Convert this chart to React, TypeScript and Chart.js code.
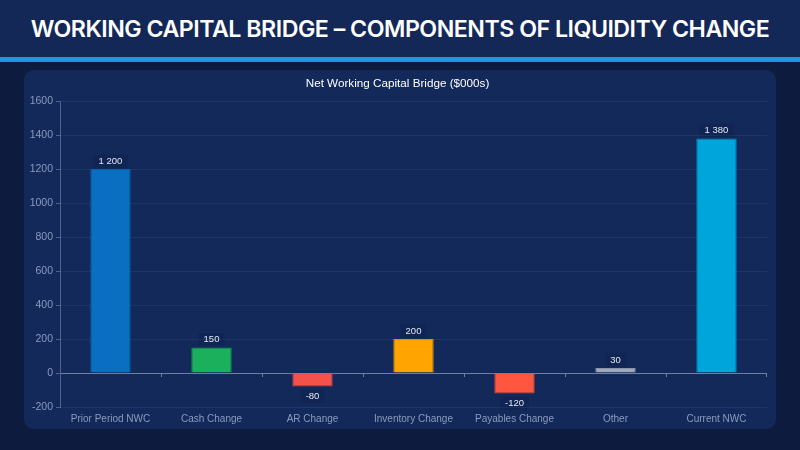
import { useEffect, useRef } from "react"
import { Chart, registerables } from "chart.js"

Chart.register(...registerables)

const categories = [
  "Prior Period NWC",
  "Cash Change",
  "AR Change",
  "Inventory Change",
  "Payables Change",
  "Other",
  "Current NWC",
]
const values = [1200, 150, -80, 200, -120, 30, 1380]
const barColors = ["#0a6fc0", "#1bb05c", "#f2524a", "#ffa400", "#ff5640", "#9ea9bd", "#00a5dc"]
const borderColors = ["#0a62aa", "#16984f", "#c9423c", "#e08f00", "#d8462f", "#8793a8", "#0090c0"]
const yTicks = [-200, 0, 200, 400, 600, 800, 1000, 1200, 1400, 1600]

const fmt = (v: number) => String(v).replace(/\B(?=(\d{3})+(?!\d))/g, " ")

// value labels above/below each bar, plus small ticks on the zero line
const barLabels = {
  id: "barLabels",
  afterDatasetsDraw(chart: Chart) {
    const { ctx } = chart
    const meta = chart.getDatasetMeta(0)
    const x = chart.scales.x
    const y = chart.scales.y
    const zero = y.getPixelForValue(0)

    ctx.save()
    ctx.strokeStyle = "#6d7fa5"
    ctx.lineWidth = 1
    for (let i = 1; i <= categories.length; i++) {
      const px = Math.round((x.getPixelForValue(i - 1) + x.getPixelForValue(i)) / 2) + 0.5
      const edge = i === categories.length ? x.right - 0.5 : px
      ctx.beginPath()
      ctx.moveTo(edge, zero)
      ctx.lineTo(edge, zero + 4)
      ctx.stroke()
    }

    ctx.font = "9.5px 'Liberation Sans', Arial, sans-serif"
    ctx.textAlign = "center"
    ctx.textBaseline = "middle"
    meta.data.forEach((bar: any, i: number) => {
      const v = values[i]
      const text = fmt(v)
      const ty = v >= 0 ? bar.y - 8 : bar.y + 10
      const w = ctx.measureText(text).width + 10
      ctx.fillStyle = "rgba(10, 26, 62, 0.2)"
      ctx.fillRect(bar.x - w / 2, ty - 6.5, w, 13)
      ctx.fillStyle = "#e2e8f3"
      ctx.fillText(text, bar.x, ty)
    })
    ctx.restore()
  },
}

export default function App() {
  const chartRef = useRef<HTMLCanvasElement>(null)
  const chartInstance = useRef<Chart | null>(null)

  useEffect(() => {
    if (!chartRef.current) return
    const ctx = chartRef.current.getContext("2d")
    if (!ctx) return
    if (chartInstance.current) chartInstance.current.destroy()

    chartInstance.current = new Chart(ctx, {
      type: "bar",
      data: {
        labels: categories,
        datasets: [
          {
            label: "NWC",
            data: values,
            backgroundColor: barColors,
            borderColor: borderColors,
            borderWidth: 1,
            barPercentage: 0.4,
            categoryPercentage: 1,
          },
        ],
      },
      plugins: [barLabels],
      options: {
        animation: false,
        responsive: true,
        maintainAspectRatio: false,
        layout: { padding: { left: 4, right: 9, top: 0, bottom: 2 } },
        plugins: {
          legend: { display: false },
          tooltip: { enabled: false },
          title: {
            display: true,
            text: "Net Working Capital Bridge ($000s)",
            color: "#ffffff",
            font: { family: "'Liberation Sans', Arial, sans-serif", size: 11.7, weight: "normal" },
            padding: { top: 7, bottom: 10 },
          },
        },
        scales: {
          x: {
            grid: { display: false, drawTicks: false },
            border: { display: false },
            afterFit: (scale: any) => {
              scale.height = 20
            },
            ticks: {
              color: "#8b9bc0",
              padding: 6,
              font: { family: "'Liberation Sans', Arial, sans-serif", size: 10 },
            },
          },
          y: {
            min: -200,
            max: 1600,
            afterBuildTicks: (scale: any) => {
              scale.ticks = yTicks.map((v) => ({ value: v }))
            },
            afterFit: (scale: any) => {
              scale.width = 32
            },
            grid: {
              color: (c: any) => (c.tick && c.tick.value === 0 ? "#6d7fa5" : "#1d3667"),
              lineWidth: 1,
              tickLength: 4,
              tickColor: "#4d6290",
            },
            border: { display: true, color: "#4d6290" },
            ticks: {
              color: "#8b9bc0",
              padding: 3,
              callback: (v: any) => String(v),
              font: { family: "'Liberation Sans', Arial, sans-serif", size: 10.5 },
            },
          },
        },
      },
    })

    return () => {
      if (chartInstance.current) {
        chartInstance.current.destroy()
        chartInstance.current = null
      }
    }
  }, [])

  return (
    <div
      style={{
        position: "fixed",
        left: 0,
        top: 0,
        width: 800,
        height: 450,
        background: "#0d1c3e",
        overflow: "hidden",
      }}
    >
      <div
        style={{
          height: 57,
          background: "#132857",
          color: "#ffffff",
          display: "flex",
          alignItems: "center",
          justifyContent: "center",
          fontFamily: "Inter, 'Noto Sans', sans-serif",
          fontWeight: 600,
          fontSize: 23.2,
          letterSpacing: -0.5,
          paddingTop: 1,
          boxSizing: "border-box",
          whiteSpace: "nowrap",
        }}
      >
        WORKING CAPITAL BRIDGE – COMPONENTS OF LIQUIDITY CHANGE
      </div>
      <div style={{ height: 5, background: "#1a9ad8" }} />
      <div
        style={{
          position: "absolute",
          left: 24,
          top: 70,
          width: 752,
          height: 359,
          background: "#12295a",
          borderRadius: 10,
        }}
      >
        <canvas ref={chartRef} />
      </div>
    </div>
  )
}
